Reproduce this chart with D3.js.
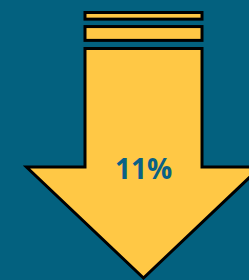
<!DOCTYPE html>
<html><head><meta charset="utf-8">
<script src="https://cdn.jsdelivr.net/npm/d3@7"></script>
<style>html,body{margin:0;padding:0;background:#03617F;overflow:hidden}</style>
</head><body>
<svg id="c" width="249" height="280"></svg>
<script>
const values = [11];
const labels = ["11%"];
// arrow shape in unit coordinates (width units centered on 0, height units 0..1)
const shaftHalf = 0.5;
const headHalf = 1.0;
const bars = [[0.00, 0.025], [0.053, 0.105]];
const shaftTop = 0.136, shaftBottom = 0.582, tip = 1.0;

const W = 249, H = 280;
const svg = d3.select("#c");
svg.append("rect").attr("width", W).attr("height", H).attr("fill", "#03617F");
const x = d3.scaleLinear().domain([-1, 1]).range([143.5 - 117, 143.5 + 117]);
const y = d3.scaleLinear().domain([0, 1]).range([12.5, 278]);
const yellow = "#FFC845";

bars.forEach(b => {
  svg.append("rect")
    .attr("x", x(-shaftHalf)).attr("y", y(b[0]))
    .attr("width", x(shaftHalf) - x(-shaftHalf))
    .attr("height", y(b[1]) - y(b[0]))
    .attr("fill", yellow).attr("stroke", "#000").attr("stroke-width", 3);
});
const pts = [[-shaftHalf, shaftTop], [shaftHalf, shaftTop], [shaftHalf, shaftBottom], [headHalf, shaftBottom], [0, tip], [-headHalf, shaftBottom], [-shaftHalf, shaftBottom]];
svg.append("path")
  .attr("d", d3.line().x(d => x(d[0])).y(d => y(d[1]))(pts) + "Z")
  .attr("fill", yellow).attr("stroke", "#000").attr("stroke-width", 3).attr("stroke-linejoin", "miter");
svg.append("text").attr("x", x(0)).attr("y", 179)
  .attr("text-anchor", "middle")
  .attr("font-family", "Open Sans").attr("font-weight", "bold").attr("font-size", 28)
  .attr("fill", "#0A6185").text(labels[0]);
</script>
</body></html>
